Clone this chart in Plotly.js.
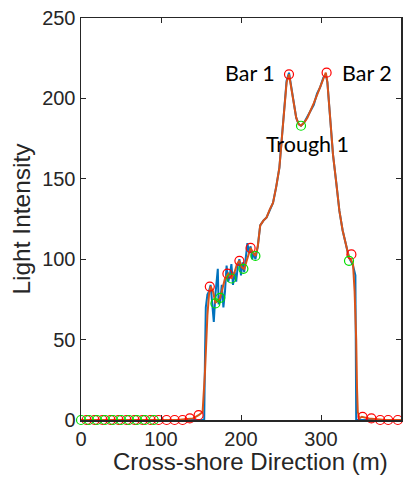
<!DOCTYPE html>
<html>
<head>
<meta charset="utf-8">
<script src="https://cdn.plot.ly/plotly-3.0.1.min.js"></script>
<style>html,body{margin:0;padding:0;background:#fff;}#chart{width:417px;height:477px;}</style>
</head>
<body>
<div id="chart"></div>
<script>
// Raw profile (blue)
const rawX = [0,100,150,154,155,156,158,160,162,164,166,168,170,171,172,174,176,178,180,182,184,186,188,190,192,194,196,198,200,202,204,206,208,210,212,214,216,218,221,224,228,232,236,240,244,248,251,254,257,260,263,266,269,272,275,279,283,287,291,295,299,303,306,308,311,315,319,323,327,331,335,338,340,342,343,344,345,350,400];
const rawY = [0,0,0,0,40,70,78,80,84,70,61,78,88,94,72,74,84,70,80,96,86,90,97,84,92,86,96,100,90,98,92,100,110,104,108,100,104,100,108,121,124,126,131,135,145,157,175,195,211,216,207,196,188,184,183,185,189,193,196,203,207,213,215,210,192,165,148,130,118,110,101,98,96,92,90,0,0,0,0];
// Smoothed profile (orange)
const smX = [0,50,100,120,140,147,152,155,158,160,162,165,168,171,174,177,180,184,188,192,195,198,201,204,208,212,215,218,221,224,228,232,236,240,244,248,251,254,257,260,263,266,269,272,275,279,283,287,291,295,299,303,306,308,311,315,319,323,327,331,335,338,340,342,344,345,346,348,351,360,380,400];
const smY = [0,0,0,0,1,3,5,30,65,78,83,80,73,74,76,82,88,91,88,92,97,99,95,94,101,107,104,102,108,121,124,126,131,135,145,157,175,195,210,215,207,197,188,184,183,185,188,192,197,202,207,212,216,210,192,165,148,130,118,110,101,99,97,80,50,20,5,1,2,1,0,0];
// Detected peaks (red) and troughs (green)
const peakX = [7,17,27,37,47,57,67,77,87,97,107,117,127,136,147,161,183,198,212,260,307,338,352,363,374,384,396];
const peakY = [0,0,0,0,0,0,0,0,0,0,0,0,0,1,3,83,91,99,107,215,216,103,2,1,0,0,0];
const troughX = [0,10,20,30,40,50,60,70,80,91,168,174,188,203,218,275,335];
const troughY = [0,0,0,0,0,0,0,0,0,0,72.5,76,88,94,102,183,99];
const xTicks = [0,100,200,300,400];
const yTicks = [0,50,100,150,200,250];
const labels = [{x:211,y:216,t:'Bar 1'},{x:358,y:216,t:'Bar 2'},{x:283,y:171.5,t:'Trough 1'}];
const xTitle = 'Cross-shore Direction (m)';
const yTitle = 'Light Intensity';

const axisCol = '#262626';
const fam = 'Liberation Sans, Arial, sans-serif';
const tickFont = {family:fam, size:20, color:axisCol};
const traces = [
  {x:rawX, y:rawY, type:'scatter', mode:'lines', line:{color:'#0072BD', width:2}, hoverinfo:'none'},
  {x:smX, y:smY, type:'scatter', mode:'lines', line:{color:'#D95319', width:2}, hoverinfo:'none'},
  {x:peakX, y:peakY, type:'scatter', mode:'markers', cliponaxis:false,
   marker:{symbol:'circle-open', size:9, color:'#FF0000', line:{width:1.2, color:'#FF0000'}}},
  {x:troughX, y:troughY, type:'scatter', mode:'markers', cliponaxis:false,
   marker:{symbol:'circle-open', size:9, color:'#00E000', line:{width:1.2, color:'#00E000'}}}
];
const annots = labels.map(a => ({x:a.x, y:a.y, text:a.t, showarrow:false, xanchor:'center', yanchor:'middle',
      font:{family:'Lato, Open Sans, sans-serif', size:21.5, color:'#000'}}));
annots.push({xref:'paper', yref:'paper', x:0.531, y:-0.103, text:xTitle, showarrow:false,
      xanchor:'center', yanchor:'middle', font:{family:fam, size:24, color:axisCol}});
const layout = {
  width:417, height:477, showlegend:false,
  paper_bgcolor:'#fff', plot_bgcolor:'#fff',
  margin:{l:81, r:16, t:18, b:57},
  xaxis:{range:[0,400], tickvals:xTicks, ticktext:xTicks.map(String), ticks:'inside', ticklen:5, tickcolor:axisCol,
         showline:true, linecolor:axisCol, linewidth:1.5, mirror:'ticks', showgrid:false, zeroline:false,
         tickfont:tickFont},
  yaxis:{range:[0,250], tickvals:yTicks, ticktext:yTicks.map(String), ticks:'inside', ticklen:5, tickcolor:axisCol,
         showline:true, linecolor:axisCol, linewidth:1.5, mirror:'ticks', showgrid:false, zeroline:false,
         tickfont:tickFont, title:{text:yTitle, font:{family:fam, size:24.5, color:axisCol}, standoff:4}},
  annotations: annots
};
Plotly.newPlot('chart', traces, layout, {displayModeBar:false, staticPlot:true});
</script>
</body>
</html>
